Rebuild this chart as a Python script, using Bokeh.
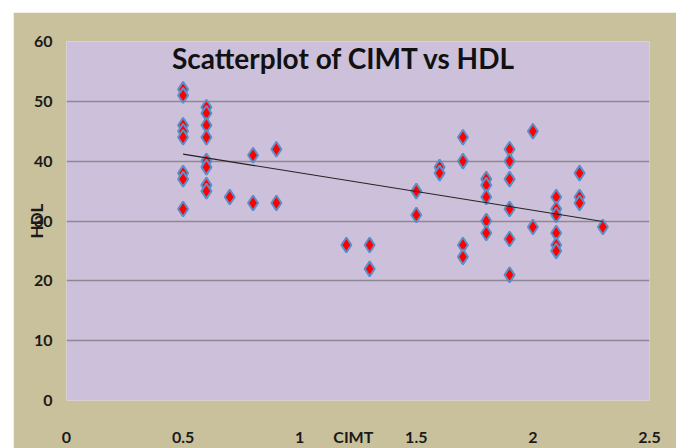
import numpy as np
from bokeh.plotting import figure
from bokeh.models import Label, FixedTicker, ColumnDataSource
from bokeh.embed import file_html
from bokeh.resources import INLINE

# ---- data ----
cimt = [0.5]*8 + [0.6]*8 + [0.7] + [0.8]*2 + [0.9]*2 + [1.2] + [1.3]*2 + [1.5]*2 + [1.6]*2 \
     + [1.7]*4 + [1.8]*5 + [1.9]*6 + [2.0]*2 + [2.1]*6 + [2.2]*3 + [2.3]
hdl = [52, 51, 46, 45, 44, 38, 37, 32,
       49, 48, 46, 44, 40, 39, 36, 35,
       34,
       41, 33,
       42, 33,
       26,
       26, 22,
       35, 31,
       39, 38,
       44, 40, 26, 24,
       37, 36, 34, 30, 28,
       42, 40, 37, 32, 27, 21,
       45, 29,
       34, 32, 31, 28, 26, 25,
       38, 34, 33,
       29]
x_ticks = [0, 0.5, 1, 1.5, 2, 2.5]
x_tick_labels = ["0", "0.5", "1", "1.5", "2", "2.5"]
y_ticks = [0, 10, 20, 30, 40, 50, 60]
title_text = "Scatterplot of CIMT vs HDL"
x_title = "CIMT"
y_title = "HDL"
x_title_pos = 1.23

TAN = "#c9c19c"
PURPLE = "#ccc0da"
FONT = "Lato"

p = figure(width=663, height=436, x_range=(0, 2.5), y_range=(0, 60),
           output_backend="svg", toolbar_location=None, tools="",
           background_fill_color=PURPLE, border_fill_color=TAN,
           min_border_left=53, min_border_right=27, min_border_top=29, min_border_bottom=48,
           margin=(12, 0, 0, 13))
p.outline_line_color = None

# axes
ticks = x_ticks + [x_title_pos]
p.xaxis.ticker = FixedTicker(ticks=ticks)
over = {t: l for t, l in zip(x_ticks, x_tick_labels)}
over[x_title_pos] = x_title
p.xaxis.major_label_overrides = over
p.yaxis.ticker = FixedTicker(ticks=y_ticks)
for ax in (p.xaxis[0], p.yaxis[0]):
    ax.axis_line_color = None
    ax.major_tick_line_color = None
    ax.minor_tick_line_color = None
    ax.major_label_text_font = FONT
    ax.major_label_text_font_size = "16px"
    ax.major_label_text_font_style = "bold"
    ax.major_label_text_color = "#1a1a1a"
p.xaxis.major_label_standoff = 20
p.yaxis.major_label_standoff = 8

p.yaxis.axis_label = y_title
p.yaxis.axis_label_text_font = FONT
p.yaxis.axis_label_text_font_size = "17px"
p.yaxis.axis_label_text_font_style = "bold"
p.yaxis.axis_label_text_color = "#1a1a1a"
p.yaxis.axis_label_standoff = -16

p.xgrid.grid_line_color = None
p.ygrid.grid_line_color = "#8f8794"
p.ygrid.grid_line_width = 1.5

# points
src = ColumnDataSource(dict(x=cimt, y=hdl))
p.scatter("x", "y", source=src, marker="diamond", size=15,
          fill_color="#ff0000", line_color="#5b8fc9", line_width=2)

# linear trend line
xs = np.array(cimt); ys = np.array(hdl)
m, b = np.polyfit(xs, ys, 1)
lx = np.array([xs.min(), xs.max()])
p.line(lx, m*lx + b, line_color="#222222", line_width=1.1)

# title
p.add_layout(Label(x=1.19, y=57.3, text=title_text, text_align="center",
                   text_baseline="alphabetic", text_font=FONT,
                   text_font_size="28px", text_font_style="bold", text_color="#111111"))

open("out.html", "w").write(file_html(p, INLINE))
